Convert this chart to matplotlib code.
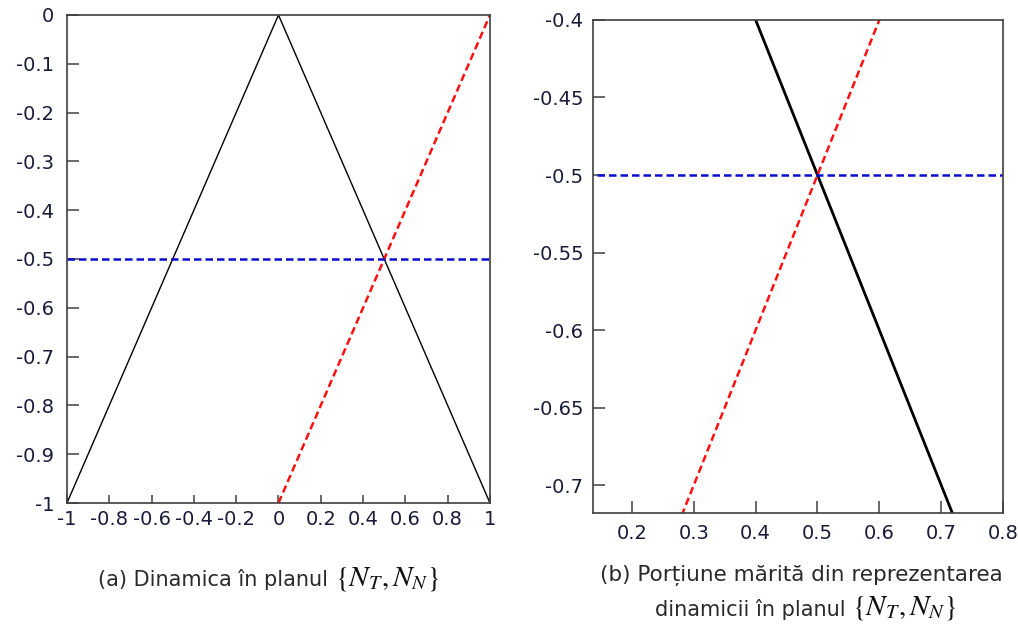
import matplotlib
matplotlib.use("Agg")
import matplotlib.pyplot as plt

plt.rcParams['font.family'] = ['DejaVu Sans']
plt.rcParams['mathtext.fontset'] = 'stix'
plt.rcParams['axes.unicode_minus'] = False

# Trajectory data in the {N_T, N_N} plane
nt_black = [-1.0, 0.0, 1.0]
nn_black = [-1.0, 0.0, -1.0]
nt_red = [0.0, 1.0]
nn_red = [-1.0, 0.0]
nt_blue = [-1.0, 1.0]
nn_blue = [-0.5, -0.5]

# Tick labels
xticks_a = [-1, -0.8, -0.6, -0.4, -0.2, 0, 0.2, 0.4, 0.6, 0.8, 1]
yticks_a = [0, -0.1, -0.2, -0.3, -0.4, -0.5, -0.6, -0.7, -0.8, -0.9, -1]
xticks_b = [0.2, 0.3, 0.4, 0.5, 0.6, 0.7, 0.8]
yticks_b = [-0.4, -0.45, -0.5, -0.55, -0.6, -0.65, -0.7]

caption_a = "(a) Dinamica în planul "
caption_b1 = "(b) Porțiune mărită din reprezentarea"
caption_b2 = "dinamicii în planul "
plane_label = "$\\{N_T,N_N\\}$"

tick_color = '#1a1a3a'
spine_color = '#404040'

W, H = 1018, 632
fig = plt.figure(figsize=(W / 100, H / 100), dpi=100)
ax_a = fig.add_axes([0.0658, 0.2041, 0.4155, 0.7722])
ax_b = fig.add_axes([0.5825, 0.1883, 0.4028, 0.7801])


def fmt(v):
    return f"{v:g}"


def draw(ax, black_lw):
    ax.plot(nt_black, nn_black, color='black', lw=black_lw, solid_capstyle='butt')
    ax.plot(nt_red, nn_red, color='#ff1010', lw=1.8, ls=(0, (3, 1.6)))
    ax.plot(nt_blue, nn_blue, color='#0a0ad0', lw=1.8, ls=(0, (3, 1.6)))
    for s in ax.spines.values():
        s.set_color(spine_color)
        s.set_linewidth(1.2)


draw(ax_a, 1.0)
ax_a.set_xlim(-1, 1)
ax_a.set_ylim(-1, 0)
ax_a.set_xticks(xticks_a)
ax_a.set_xticklabels([fmt(v) for v in xticks_a])
ax_a.set_yticks(yticks_a)
ax_a.set_yticklabels([fmt(v) for v in yticks_a])
ax_a.tick_params(axis='x', direction='in', length=6, width=1.1, color=spine_color,
                 labelsize=14, labelcolor=tick_color, pad=5)
ax_a.tick_params(axis='y', direction='in', length=8.5, width=1.1, color=spine_color,
                 labelsize=14, labelcolor=tick_color, pad=9)

draw(ax_b, 2.0)
ax_b.set_xlim(0.137, 0.8)
ax_b.set_ylim(-0.718, -0.4)
ax_b.set_xticks(xticks_b)
ax_b.set_xticklabels([fmt(v) for v in xticks_b])
ax_b.set_yticks(yticks_b)
ax_b.set_yticklabels([fmt(v) for v in yticks_b])
ax_b.tick_params(axis='x', direction='in', length=8.5, width=1.1, color=spine_color,
                 labelsize=14, labelcolor=tick_color, pad=8)
ax_b.tick_params(axis='y', direction='in', length=8.5, width=1.1, color=spine_color,
                 labelsize=14, labelcolor=tick_color, pad=7)

cap_color = '#2a2a2a'
renderer = fig.canvas.get_renderer()


def caption_with_plane(x_left, y_px, text, math_size):
    t = fig.text(x_left / W, 1 - y_px / H, text, ha='left', va='center',
                 fontsize=15, color=cap_color)
    bb = t.get_window_extent(renderer)
    fig.text(bb.x1 / W, 1 - (y_px - 1) / H, plane_label, ha='left', va='center',
             fontsize=math_size, color='#111111')


caption_with_plane(98, 580, caption_a, 21)
fig.text(801 / W, 1 - 575 / H, caption_b1, ha='center', va='center',
         fontsize=15.5, color=cap_color)
caption_with_plane(655, 609, caption_b2, 21)

fig.savefig('out.png', dpi=100, facecolor='white')
